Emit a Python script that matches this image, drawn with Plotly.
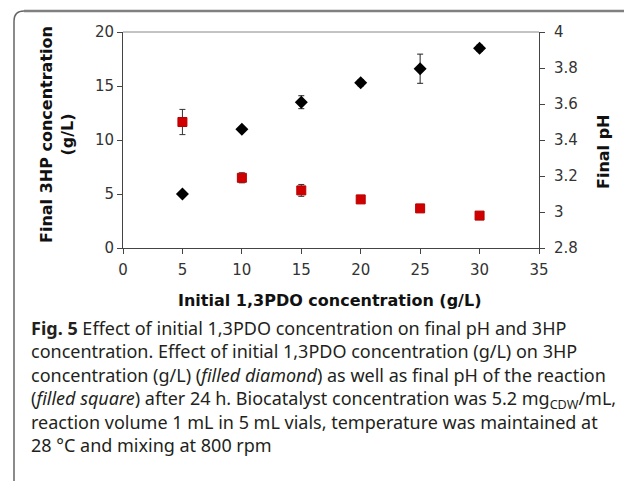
import plotly.graph_objects as go

# ---- data ----
pdo_initial = [5, 10, 15, 20, 25, 30]
hp3_final = [5.0, 11.0, 13.5, 15.3, 16.6, 18.5]
hp3_err = [0.0, 0.0, 0.6, 0.3, 1.35, 0.3]
ph_final = [3.50, 3.19, 3.12, 3.07, 3.02, 2.98]
ph_err = [0.07, 0.028, 0.033, 0.0, 0.0, 0.0]

x_title = "Initial 1,3PDO concentration (g/L)"
y1_title = "Final 3HP concentration<br>(g/L)"
y2_title = "Final pH"
caption_lines = [
    "<b>Fig. 5</b> Effect of initial 1,3PDO concentration on final pH and 3HP",
    "concentration. Effect of initial 1,3PDO concentration (g/L) on 3HP",
    "concentration (g/L) (<i>filled diamond</i>) as well as final pH of the reaction",
    "(<i>filled square</i>) after 24 h. Biocatalyst concentration was 5.2 mg<sub>CDW</sub>/mL,",
    "reaction volume 1 mL in 5 mL vials, temperature was maintained at",
    "28 °C and mixing at 800 rpm",
]

W, H = 624, 481
L, R, T, B = 123, 539, 32, 248  # plot area in px


def px(xp):
    return (xp - L) / (R - L)


def py(yp):
    return (B - yp) / (B - T)


TICKFONT = dict(family="DejaVu Sans", size=15, color="#333")
TITLEFONT = dict(family="DejaVu Sans", size=16, color="#111")

fig = go.Figure()
fig.add_trace(go.Scatter(
    x=pdo_initial, y=hp3_final, mode="markers", yaxis="y",
    marker=dict(symbol="diamond", size=10, color="black"),
    error_y=dict(type="data", array=hp3_err, visible=True, color="#222",
                 thickness=1, width=3),
    showlegend=False,
))
fig.add_trace(go.Scatter(
    x=pdo_initial, y=ph_final, mode="markers", yaxis="y2",
    marker=dict(symbol="square", size=9, color="#d00000",
                line=dict(color="#b80000", width=1)),
    error_y=dict(type="data", array=ph_err, visible=True, color="#333",
                 thickness=1, width=3),
    showlegend=False,
))

fig.update_layout(
    width=W, height=H,
    margin=dict(l=L, r=W - R, t=T, b=H - B, pad=0),
    paper_bgcolor="white", plot_bgcolor="white",
    xaxis=dict(range=[0, 35], dtick=5, tick0=0, showgrid=False, zeroline=False,
               showline=True, linecolor="#444", linewidth=1,
               ticks="outside", ticklen=5, tickcolor="#444",
               ticklabelstandoff=3, tickfont=TICKFONT),
    yaxis=dict(range=[0, 20], dtick=5, tick0=0, showgrid=False, zeroline=False,
               showline=True, linecolor="#444", linewidth=1,
               ticks="outside", ticklen=5, tickcolor="#444",
               tickfont=TICKFONT),
    yaxis2=dict(range=[2.8, 4], dtick=0.2, tick0=2.8, overlaying="y", side="right",
                showgrid=False, zeroline=False,
                showline=True, linecolor="#444", linewidth=1,
                ticks="outside", ticklen=5, tickcolor="#444",
                ticklabelstandoff=6, tickfont=TICKFONT),
)

# top border of plot area (light grey)
fig.add_shape(type="line", xref="paper", yref="paper", x0=0, x1=1, y0=1, y1=1,
              line=dict(color="#888", width=1))

# outer frame: top line and left line with rounded corner
r = 10
fy = 11
fx = 14
fig.add_shape(type="path", xref="paper", yref="paper",
              path=(f"M {px(fx)} {py(H)} L {px(fx)} {py(fy + r)} "
                    f"Q {px(fx)} {py(fy)} {px(fx + r)} {py(fy)} L {px(W + 5)} {py(fy)}"),
              line=dict(color="#666", width=1.5))
fig.add_shape(type="line", xref="paper", yref="paper",
              x0=px(fx + r), x1=px(W + 5), y0=py(fy), y1=py(fy),
              line=dict(color="#808080", width=2.5))

# axis titles
fig.add_annotation(text=f"<b>{x_title}</b>", xref="paper", yref="paper",
                   x=px(329), y=py(300), xanchor="center", yanchor="middle",
                   showarrow=False, font=TITLEFONT)
fig.add_annotation(text=f"<b>{y1_title.replace('<br>', '</b><br><b>')}</b>",
                   xref="paper", yref="paper",
                   x=px(57), y=py(135), xanchor="center", yanchor="middle",
                   textangle=-90, showarrow=False, font=TITLEFONT)
fig.add_annotation(text=f"<b>{y2_title}</b>", xref="paper", yref="paper",
                   x=px(603), y=py(152), xanchor="center", yanchor="middle",
                   textangle=-90, showarrow=False, font=TITLEFONT)

# caption (one text block)
CAPFONT = dict(family="Noto Sans", size=18, color="#231f20")
fig.add_annotation(text="<br>".join(caption_lines), xref="paper", yref="paper",
                   x=px(30), y=py(386), xanchor="left", yanchor="middle",
                   showarrow=False, font=CAPFONT, align="left", borderpad=0)

fig.write_html("out.html", config={"displayModeBar": False},
               post_script="document.body.style.margin='0';"
                           "document.body.style.overflow='hidden';")
